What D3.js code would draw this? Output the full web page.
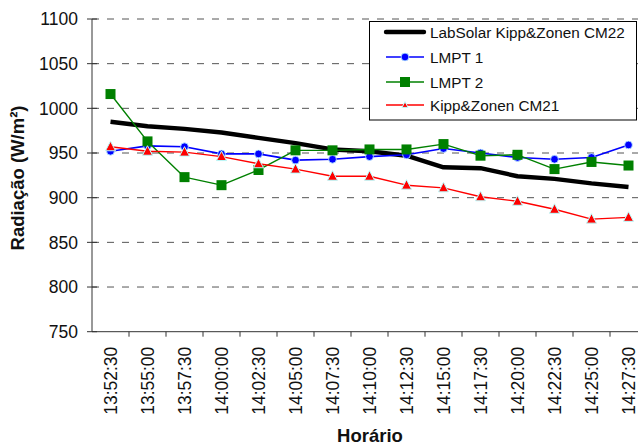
<!DOCTYPE html>
<html>
<head>
<meta charset="utf-8">
<script src="https://cdn.jsdelivr.net/npm/d3@7"></script>
<style>
  html, body { margin: 0; padding: 0; background: #fff; }
  svg { display: block; font-family: "Liberation Sans", Arial, sans-serif; }
</style>
</head>
<body>
<svg id="chart" width="638" height="444"></svg>
<script>
// Sample times (x categories)
const horarios = ["13:52:30","13:55:00","13:57:30","14:00:00","14:02:30","14:05:00","14:07:30",
  "14:10:00","14:12:30","14:15:00","14:17:30","14:20:00","14:22:30","14:25:00","14:27:30"];

// Irradiance readings, W/m²
const labSolarCM22 = [985, 980, 977, 973, 967, 961, 954, 952, 947, 934, 933, 924, 921, 916, 912];
const lmpt1        = [952, 958, 957, 949, 949, 942, 943, 946, 948, 955, 950, 945, 943, 945, 959];
const lmpt2        = [1016, 963, 923, 914, 931, 953, 953, 954, 954, 960, 947, 948, 932, 940, 936];
const kippCM21     = [957, 952, 951, 946, 938, 932, 924, 924, 914, 911, 901, 896, 887, 876, 878];

// Y axis ticks
const yTicks = [750, 800, 850, 900, 950, 1000, 1050, 1100];

const series = [
  { name: "LabSolar Kipp&Zonen CM22", values: labSolarCM22, color: "#000000", width: 4.4, marker: "none" },
  { name: "LMPT 1", values: lmpt1, color: "#0000ff", width: 1.6, marker: "circle" },
  { name: "LMPT 2", values: lmpt2, color: "#008000", width: 1.4, marker: "square" },
  { name: "Kipp&Zonen CM21", values: kippCM21, color: "#ff0000", width: 1.4, marker: "triangle" }
];

const svg = d3.select("#chart");
const axisColor = "#333";
const textColor = "#111";

const x = d3.scaleBand().domain(horarios).range([92, 647]);
const y = d3.scaleLinear().domain([750, 1100]).range([331.7, 19]);
const cx = d => x(d) + x.bandwidth() / 2;

// Dashed horizontal gridlines
svg.append("g").selectAll("line")
  .data(yTicks.filter(t => t > 750))
  .join("line")
  .attr("x1", 92).attr("x2", 638)
  .attr("y1", d => y(d)).attr("y2", d => y(d))
  .attr("stroke", "#555").attr("stroke-width", 1)
  .attr("stroke-dasharray", "7,8");

// Y axis: cross ticks and labels
const yAxis = svg.append("g");
yAxis.append("line")
  .attr("x1", 92).attr("x2", 92).attr("y1", y(1100)).attr("y2", y(750))
  .attr("stroke", axisColor).attr("stroke-width", 1);
yAxis.selectAll("line.tick").data(yTicks).join("line").attr("class", "tick")
  .attr("x1", 87).attr("x2", 97)
  .attr("y1", d => y(d)).attr("y2", d => y(d))
  .attr("stroke", axisColor).attr("stroke-width", 1);
yAxis.selectAll("text").data(yTicks).join("text")
  .attr("x", 78).attr("y", d => y(d)).attr("dy", "0.36em")
  .attr("text-anchor", "end").attr("font-size", 17.5).attr("fill", textColor)
  .text(d => d);

// X axis: ticks between categories, rotated labels
const xAxis = svg.append("g");
xAxis.append("line")
  .attr("x1", 92).attr("x2", 638).attr("y1", y(750)).attr("y2", y(750))
  .attr("stroke", axisColor).attr("stroke-width", 1);
xAxis.selectAll("line.tick").data(horarios).join("line").attr("class", "tick")
  .attr("x1", d => x(d) + x.bandwidth()).attr("x2", d => x(d) + x.bandwidth())
  .attr("y1", y(750)).attr("y2", y(750) + 5)
  .attr("stroke", axisColor).attr("stroke-width", 1);
xAxis.selectAll("text").data(horarios).join("text")
  .attr("transform", d => `translate(${cx(d)},${y(750) + 15}) rotate(-90)`)
  .attr("dy", "0.36em")
  .attr("text-anchor", "end").attr("font-size", 17.5).attr("fill", textColor)
  .text(d => d);

// Axis titles
svg.append("text")
  .attr("x", 370).attr("y", 441.5)
  .attr("text-anchor", "middle").attr("font-size", 18.5).attr("font-weight", "bold")
  .attr("fill", textColor).text("Horário");
svg.append("text")
  .attr("transform", "translate(24,178) rotate(-90)")
  .attr("text-anchor", "middle").attr("font-size", 18.5).attr("font-weight", "bold")
  .attr("fill", textColor).text("Radiação (W/m²)");

// Marker drawing helper
function drawMarker(g, type, color, size) {
  if (type === "circle") {
    g.append("circle").attr("r", size).attr("fill", color)
      .attr("stroke", "#c8ffff").attr("stroke-width", 0.8);
  } else if (type === "square") {
    g.append("rect").attr("x", -size).attr("y", -size)
      .attr("width", size * 2).attr("height", size * 2).attr("fill", color);
  } else if (type === "triangle") {
    g.append("path")
      .attr("d", `M0,${-size * 1.1}L${size},${size * 0.8}L${-size},${size * 0.8}Z`)
      .attr("fill", color).attr("stroke", "#b8ffff").attr("stroke-width", 1);
  }
}
const markerSize = { circle: 3.9, square: 5, triangle: 5 };

// Series lines and markers
series.forEach(s => {
  const line = d3.line()
    .x((v, i) => cx(horarios[i]))
    .y(v => y(v));
  svg.append("path")
    .datum(s.values)
    .attr("d", line)
    .attr("fill", "none")
    .attr("stroke", s.color)
    .attr("stroke-width", s.width)
    .attr("stroke-linejoin", "round");
  if (s.marker !== "none") {
    svg.append("g").selectAll("g")
      .data(s.values)
      .join("g")
      .attr("transform", (v, i) => `translate(${cx(horarios[i])},${y(v)})`)
      .each(function () { drawMarker(d3.select(this), s.marker, s.color, markerSize[s.marker]); });
  }
});

// Legend
const legend = svg.append("g");
legend.append("rect")
  .attr("x", 369.5).attr("y", 21.5).attr("width", 267).attr("height", 98.5)
  .attr("fill", "#fff").attr("stroke", "#000").attr("stroke-width", 1);
const legendRows = [32, 57, 82, 105];
const legendMarker = { circle: 3.9, square: 5, triangle: 3 };
series.forEach((s, i) => {
  const ly = legendRows[i];
  legend.append("line")
    .attr("x1", 386).attr("x2", 424).attr("y1", ly).attr("y2", ly)
    .attr("stroke", s.color).attr("stroke-width", s.width)
    .attr("stroke-linecap", s.marker === "none" ? "round" : "butt");
  if (s.marker !== "none") {
    const g = legend.append("g").attr("transform", `translate(405,${ly})`);
    drawMarker(g, s.marker, s.color, legendMarker[s.marker]);
  }
  legend.append("text")
    .attr("x", 430).attr("y", ly).attr("dy", "0.36em")
    .attr("font-size", 15.3).attr("fill", textColor)
    .text(s.name);
});
</script>
</body>
</html>
